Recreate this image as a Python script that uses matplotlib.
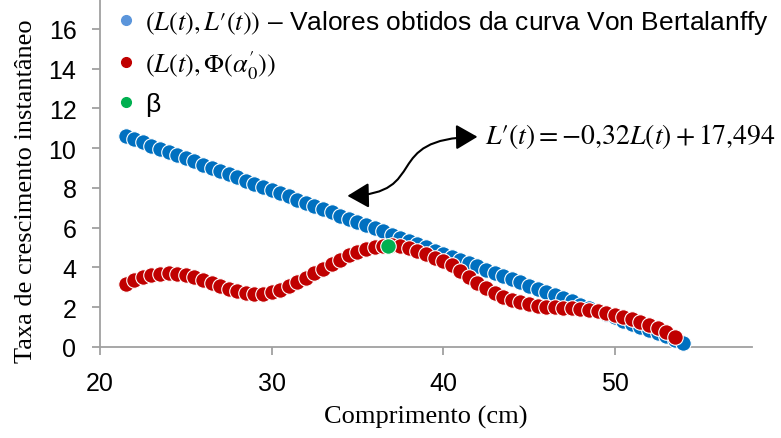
import matplotlib
matplotlib.use('Agg')
import matplotlib.pyplot as plt
from matplotlib.lines import Line2D
from matplotlib.patches import FancyArrowPatch
from matplotlib.path import Path

# Comprimento L(t) (cm) e taxa L'(t) - curva Von Bertalanffy
comprimento = [21.5, 22.0, 22.5, 23.0, 23.5, 24.0, 24.5, 25.0, 25.5, 26.0,
               26.5, 27.0, 27.5, 28.0, 28.5, 29.0, 29.5, 30.0, 30.5, 31.0,
               31.5, 32.0, 32.5, 33.0, 33.5, 34.0, 34.5, 35.0, 35.5, 36.0,
               36.5, 37.0, 37.5, 38.0, 38.5, 39.0, 39.5, 40.0, 40.5, 41.0,
               41.5, 42.0, 42.5, 43.0, 43.5, 44.0, 44.5, 45.0, 45.5, 46.0,
               46.5, 47.0, 47.5, 48.0, 48.5, 49.0, 49.5, 50.0, 50.5, 51.0,
               51.5, 52.0, 52.5, 53.0, 53.5, 54.0]
taxa_vb = [10.61, 10.45, 10.29, 10.13, 9.97, 9.81, 9.65, 9.49, 9.33, 9.17,
           9.01, 8.85, 8.69, 8.53, 8.37, 8.21, 8.05, 7.89, 7.73, 7.57,
           7.41, 7.25, 7.09, 6.93, 6.77, 6.61, 6.45, 6.29, 6.13, 5.97,
           5.81, 5.65, 5.49, 5.33, 5.17, 5.01, 4.85, 4.69, 4.53, 4.37,
           4.21, 4.05, 3.89, 3.73, 3.57, 3.41, 3.25, 3.09, 2.93, 2.77,
           2.61, 2.45, 2.29, 2.13, 1.97, 1.81, 1.65, 1.49, 1.33, 1.17,
           1.01, 0.85, 0.69, 0.53, 0.37, 0.21]

# Phi(alpha'_0) - same lengths, last one missing
comprimento_phi = comprimento[:-1]
taxa_phi = [3.15, 3.35, 3.50, 3.60, 3.67, 3.70, 3.68, 3.60, 3.50, 3.35,
            3.20, 3.05, 2.92, 2.80, 2.72, 2.68, 2.68, 2.75, 2.88, 3.05,
            3.25, 3.47, 3.70, 3.93, 4.17, 4.40, 4.62, 4.80, 4.95, 5.05,
            5.10, 5.11, 5.08, 4.98, 4.84, 4.67, 4.50, 4.32, 4.10, 3.82,
            3.52, 3.22, 2.95, 2.73, 2.53, 2.37, 2.24, 2.14, 2.07, 2.02,
            1.99, 1.97, 1.95, 1.92, 1.87, 1.80, 1.72, 1.63, 1.52, 1.40,
            1.27, 1.12, 0.95, 0.75, 0.52]

beta_x = [36.8]
beta_y = [5.1]

legend_labels = [r"$(L(t),L\prime(t))$ – Valores obtidos da curva Von Bertalanffy",
                 r"$(L(t),\Phi(\alpha_0^{\prime}))$",
                 "β"]

plt.rcParams['mathtext.fontset'] = 'stix'
plt.rcParams['font.family'] = ['Liberation Sans', 'DejaVu Sans']

fig = plt.figure(figsize=(7.81, 4.39), dpi=100)
ax = fig.add_axes([100 / 781, 1 - 348 / 439, 652 / 781, 348 / 439])

ax.scatter(comprimento, taxa_vb, s=125, color='#0070C0', edgecolors='white',
           linewidths=0.8, zorder=3, clip_on=False)
ax.scatter(comprimento_phi, taxa_phi, s=125, color='#C00000', edgecolors='white',
           linewidths=0.8, zorder=4, clip_on=False)
ax.scatter(beta_x, beta_y, s=125, color='#00B050', edgecolors='white',
           linewidths=0.8, zorder=5, clip_on=False)

ax.set_xlim(20, 58)
ax.set_ylim(0, 17.5)
ax.set_xticks([20, 30, 40, 50])
ax.set_yticks(range(0, 17, 2))

for side in ['top', 'right']:
    ax.spines[side].set_visible(False)
for side in ['left', 'bottom']:
    ax.spines[side].set_color('#A0A0A0')
    ax.spines[side].set_linewidth(1.3)
ax.tick_params(axis='both', direction='out', length=6, width=1.3,
               color='#A0A0A0', labelsize=18, pad=11)

ax.set_xlabel('Comprimento (cm)', family='Liberation Serif', fontsize=19)
ax.set_ylabel('Taxa de crescimento instantâneo', family='Liberation Serif', fontsize=19)
ax.xaxis.set_label_coords(0.5, -0.165)
ax.yaxis.set_label_coords(-0.097, 0.45)

# equation and curved double arrow
ax.text(42.45, 10.62, r"$L\prime(t) = -0{,}32L(t) + 17{,}494$", fontsize=20,
        ha='left', va='center', clip_on=False)
verts = [(34.42, 7.60), (39.3, 7.70), (36.3, 10.5), (42.0, 10.57)]
path = Path(verts, [Path.MOVETO, Path.CURVE4, Path.CURVE4, Path.CURVE4])
arrow = FancyArrowPatch(path=path, arrowstyle='<|-|>,head_length=0.6,head_width=0.35',
                        mutation_scale=22, color='black', linewidth=1.5, zorder=6)
ax.add_patch(arrow)

handles = [Line2D([], [], marker='o', linestyle='none', markersize=7, color=c)
           for c in ['#5B95DB', '#C00000', '#00B050']]
ax.legend(handles, legend_labels, loc='upper left', bbox_to_anchor=(0.0, 1.005),
          frameon=False, fontsize=19, handletextpad=0.1, labelspacing=0.45,
          handlelength=1.2, borderaxespad=0)

fig.savefig('out.png', dpi=100)
